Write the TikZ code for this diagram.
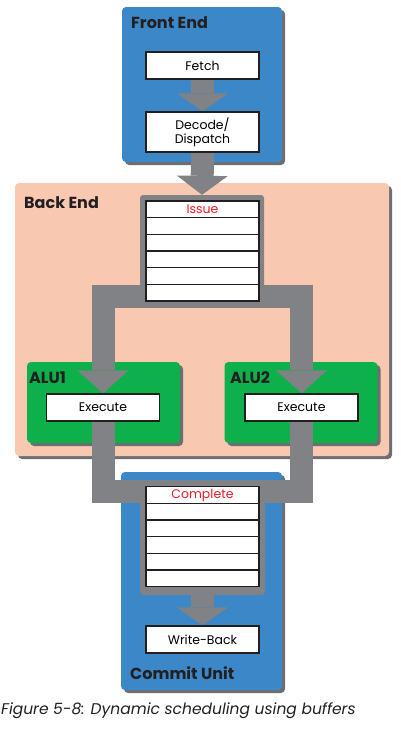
\documentclass[tikz,border=0pt]{standalone}
\usepackage{fontspec}
\setmainfont{Poppins}
\usetikzlibrary{arrows.meta,shadows}
\definecolor{unitblue}{HTML}{3B87C7}
\definecolor{peach}{HTML}{F9C8B1}
\definecolor{alugreen}{HTML}{0DB04B}
\definecolor{bandgray}{HTML}{808285}
\definecolor{shadowgray}{HTML}{6D6E71}
\definecolor{alarm}{HTML}{ED1C24}
\definecolor{ink}{HTML}{231F20}
\pgfdeclarelayer{back}
\pgfdeclarelayer{flow}
\pgfsetlayers{back,flow,main}
\tikzset{unit/.style={
    rectangle,
    rounded corners=4pt,
    drop shadow={shadow xshift=3pt,shadow yshift=-3pt,fill=shadowgray,opacity=1}}}
\tikzset{stage/.style={
    draw=ink,
    line width=1.2pt,
    fill=white,
    minimum width=113pt,
    minimum height=27pt,
    inner sep=0pt,
    font=\fontsize{12.5}{13.5}\selectfont}}
\tikzset{slot/.style={
    stage,
    minimum height=16.67pt}}
\tikzset{frame/.style={
    fill=bandgray,
    rounded corners=3pt}}
\tikzset{title/.style={
    anchor=west,
    inner sep=0pt,
    text=ink,
    font=\bfseries\fontsize{16}{18}\selectfont}}
\tikzset{band/.style={
    draw=bandgray,
    line width=23pt}}
\tikzset{flowhead/.style={
    -{Triangle[width=51pt,length=#1,line width=0pt]}}}

\begin{document}
\begin{tikzpicture}[x=1pt,y=-1pt]
\useasboundingbox (0,0) rectangle (400,740);
\coordinate (split) at (202.5,296.5);
\coordinate (merge) at (202.5,491.5);

\begin{pgfonlayer}{back}
\node[unit, fill=unitblue, minimum width=160pt, minimum height=155pt] (frontend) at (202,84.5) {};
\node[unit, fill=peach, minimum width=374pt, minimum height=273pt] (backend) at (202,319.5) {};
\node[unit, fill=alugreen, minimum width=153pt, minimum height=81pt] (alu1) at (103.5,402.5) {};
\node[unit, fill=alugreen, minimum width=153pt, minimum height=81pt] (alu2) at (301,402.5) {};
\node[unit, fill=unitblue, minimum width=161pt, minimum height=218pt] (commit) at (201.5,581) {};
\end{pgfonlayer}

\node[title] (frontlabel) at (131,23) {Front End};
\node[title] (backlabel) at (24,203) {Back End};
\node[title] (alu1label) at (29,378) {ALU1};
\node[title] (alu2label) at (230,378) {ALU2};
\node[title] (commitlabel) at (130,673) {Commit Unit};

\node[stage] (fetch) at (202.5,65.5) {Fetch};
\node[stage, minimum height=40pt, align=center] (decode) at (202.5,132) {Decode/\\Dispatch};

% buffers
\node[frame, minimum width=124pt, minimum height=112pt] (issueframe) at (202,251) {};
\foreach \i in {1,...,6}
  \node[slot] (issue\i) at (202.5,{201+16.67*(\i-0.5)}) {\ifnum\i=1 \textcolor{alarm}{Issue}\fi};

\node[stage] (exec1) at (103,407.5) {Execute};
\node[stage] (exec2) at (301.5,407.5) {Execute};

\node[frame, minimum width=125pt, minimum height=113pt] (completeframe) at (202.5,538.5) {};
\foreach \i in {1,...,6}
  \node[slot] (complete\i) at (202.5,{486.7+16.67*(\i-0.5)}) {\ifnum\i=1 \textcolor{alarm}{Complete}\fi};

\node[stage] (writeback) at (202.5,639.5) {Write-Back};

\begin{pgfonlayer}{flow}
\draw[band, flowhead=18pt] (fetch.south) -- (decode.north);
\draw[band, flowhead=19pt] (decode.south) -- (issueframe.north);
\draw[band, flowhead=23pt] (split) -| (exec1.north);
\draw[band, flowhead=23pt] (split) -| (exec2.north);
\draw[band] (exec1.south) |- (merge);
\draw[band] (exec2.south) |- (merge);
\draw[band, flowhead=18pt] (completeframe.south) -- (writeback.north);
\end{pgfonlayer}

\node[anchor=west, inner sep=0pt, text=ink, font=\itshape\fontsize{15.5}{17}\selectfont] (caption) at (1,711) {Figure 5-8: Dynamic scheduling using buffers};
\end{tikzpicture}
\end{document}
